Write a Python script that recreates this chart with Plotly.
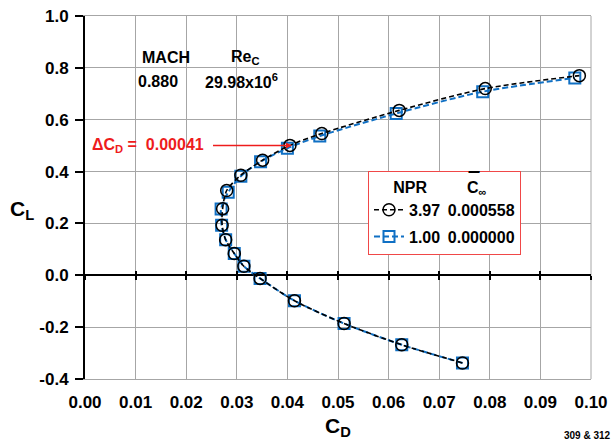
import plotly.graph_objects as go

# ---- data ----
cd_npr397 = [0.0746, 0.0626, 0.0512, 0.0414, 0.0346, 0.0314, 0.0295, 0.0278, 0.0271,
             0.0272, 0.0280, 0.0308, 0.0351, 0.0405, 0.0468, 0.0621, 0.0791, 0.0977]
cl_npr397 = [-0.338, -0.268, -0.186, -0.098, -0.012, 0.035, 0.084, 0.137, 0.193,
             0.257, 0.327, 0.386, 0.444, 0.501, 0.547, 0.636, 0.720, 0.770]
cd_npr100 = [0.0746, 0.0626, 0.0512, 0.0414, 0.0346, 0.0314, 0.0295, 0.0278, 0.0270,
             0.0269, 0.0283, 0.0308, 0.0347, 0.0400, 0.0464, 0.0615, 0.0786, 0.0968]
cl_npr100 = [-0.338, -0.268, -0.186, -0.098, -0.012, 0.035, 0.084, 0.137, 0.193,
             0.256, 0.320, 0.382, 0.438, 0.490, 0.537, 0.624, 0.708, 0.761]
npr_labels = ["3.97", "1.00"]
cbar_labels = ["0.000558", "0.000000"]
x_ticks = [0.00, 0.01, 0.02, 0.03, 0.04, 0.05, 0.06, 0.07, 0.08, 0.09, 0.10]
y_ticks = [-0.4, -0.2, 0.0, 0.2, 0.4, 0.6, 0.8, 1.0]

W, H = 611, 441
L, R, T, B = 85, 591, 16, 379
FONT = "Arial, Liberation Sans, sans-serif"
BLUE = "#1070c4"
GRID = "#a6a6a6"
NB = "\u00a0"
TS = "\u2009"
ZERO_POS = (0 - y_ticks[0]) / (y_ticks[-1] - y_ticks[0])


def px(x):
    return (x - L) / (R - L)


def py(y):
    return (B - y) / (B - T)


fig = go.Figure()
fig.add_trace(go.Scatter(
    x=cd_npr397, y=cl_npr397, mode="lines+markers", xaxis="x3", yaxis="y",
    name=f"<b>{npr_labels[0]}{NB}{TS}{cbar_labels[0]}</b>", legendgroup="a",
    line=dict(color="black", width=1.6, dash="5px,3px", shape="spline", smoothing=0.8),
    marker=dict(symbol="circle-open", size=12, color="black", line=dict(width=1.5, color="black")),
))
fig.add_trace(go.Scatter(
    x=cd_npr100, y=cl_npr100, mode="lines+markers", xaxis="x2", yaxis="y",
    name=f"<b>{npr_labels[1]}{NB}{TS}{cbar_labels[1]}</b>", legendgroup="b",
    line=dict(color=BLUE, width=2, dash="6px,3px", shape="spline", smoothing=0.8),
    marker=dict(symbol="square-open", size=11, color=BLUE, line=dict(width=2, color=BLUE)),
))

fig.update_layout(
    width=W, height=H,
    margin=dict(l=L, r=W - R, t=T, b=H - B, autoexpand=False),
    paper_bgcolor="white", plot_bgcolor="white",
    font=dict(family=FONT, color="black"),
    showlegend=True,
    legend=dict(
        x=px(368), y=py(171), xanchor="left", yanchor="top",
        bgcolor="white", bordercolor="#f04848", borderwidth=1,
        font=dict(size=16, family=FONT, color="black"),
        title=dict(text=f"<b>{NB*5}NPR{NB*9}C<sub>∞</sub></b>", font=dict(size=16, family=FONT)),
        itemwidth=30, tracegroupgap=3,
    ),
    xaxis=dict(
        range=[0, 0.10], tickvals=x_ticks, ticktext=[f"<b>{v:.2f}</b>" for v in x_ticks],
        showgrid=True, gridcolor=GRID, gridwidth=1, zeroline=False,
        showline=True, linecolor=GRID, linewidth=1, mirror=True,
        ticks="", tickfont=dict(size=17, family=FONT, color="black"),
        ticklabelstandoff=8, automargin=False,
    ),
    yaxis=dict(
        range=[y_ticks[0], y_ticks[-1]], tickvals=y_ticks, ticktext=[f"<b>{v:.1f}</b>" for v in y_ticks],
        showgrid=True, gridcolor=GRID, gridwidth=1,
        zeroline=True, zerolinecolor="black", zerolinewidth=2,
        showline=True, linecolor="black", linewidth=2,
        ticks="outside", ticklen=8, tickwidth=2, tickcolor="black",
        tickfont=dict(size=17, family=FONT, color="black"),
        ticklabelstandoff=3, automargin=False,
    ),
    # tick marks crossing the zero line
    xaxis2=dict(overlaying="x", matches="x", range=[0, 0.10], anchor="free", position=ZERO_POS,
                tickvals=x_ticks, showticklabels=False, showgrid=False, zeroline=False,
                showline=False, ticks="outside", ticklen=4, tickwidth=2, tickcolor="black",
                automargin=False),
    xaxis3=dict(overlaying="x", matches="x", range=[0, 0.10], anchor="free", position=ZERO_POS,
                tickvals=x_ticks, showticklabels=False, showgrid=False, zeroline=False,
                showline=False, ticks="inside", ticklen=4, tickwidth=2, tickcolor="black",
                automargin=False),
)

# right border of plot frame
fig.add_shape(type="line", xref="paper", yref="paper", x0=1, x1=1, y0=0, y1=1,
              line=dict(color=GRID, width=1), layer="between")
# white boxes behind text blocks
for (x0, y0, x1, y1) in [(93, 45, 303, 93), (88, 124, 210, 160), (147, 111, 207, 124)]:
    fig.add_shape(type="rect", xref="paper", yref="paper",
                  x0=px(x0), x1=px(x1), y0=py(y1), y1=py(y0),
                  fillcolor="white", line=dict(width=0), layer="between")


def txt(text, x, y, size=16, color="black", xanchor="center", yanchor="middle"):
    fig.add_annotation(text=text, x=px(x), y=py(y), xref="paper", yref="paper",
                       showarrow=False, xanchor=xanchor, yanchor=yanchor,
                       font=dict(size=size, family=FONT, color=color))


txt("<b>MACH</b>", 166, 58)
txt("<b>0.880</b>", 158, 82)
txt("<b>Re<sub>C</sub></b>", 245, 58)
txt("<b>29.98x10<sup>6</sup></b>", 241, 81)
txt("<b>ΔC<sub>D</sub> =  0.00041</b>", 206, 146, size=16, color="#ee1c1c", xanchor="right")
txt("<b>C<sub>L</sub></b>", 22, 210, size=21)
txt("<b>C<sub>D</sub></b>", 338, 427, size=21)
txt("<b>309 &amp; 312</b>", 587, 436, size=10)
# overbar on C in legend header
txt("<b>\u203e</b>", 473.5, 182, size=24)

# red arrow pointing to the NPR 3.97 point
fig.add_annotation(x=0.0409, y=0.501, ax=0.0250, ay=0.501, xref="x", yref="y",
                   axref="x", ayref="y", text="", showarrow=True,
                   arrowcolor="#ee1c1c", arrowwidth=1.5, arrowhead=2, arrowsize=0.8)

fig.write_html("out.html", config={"displayModeBar": False},
               post_script="document.body.style.margin='0';")
